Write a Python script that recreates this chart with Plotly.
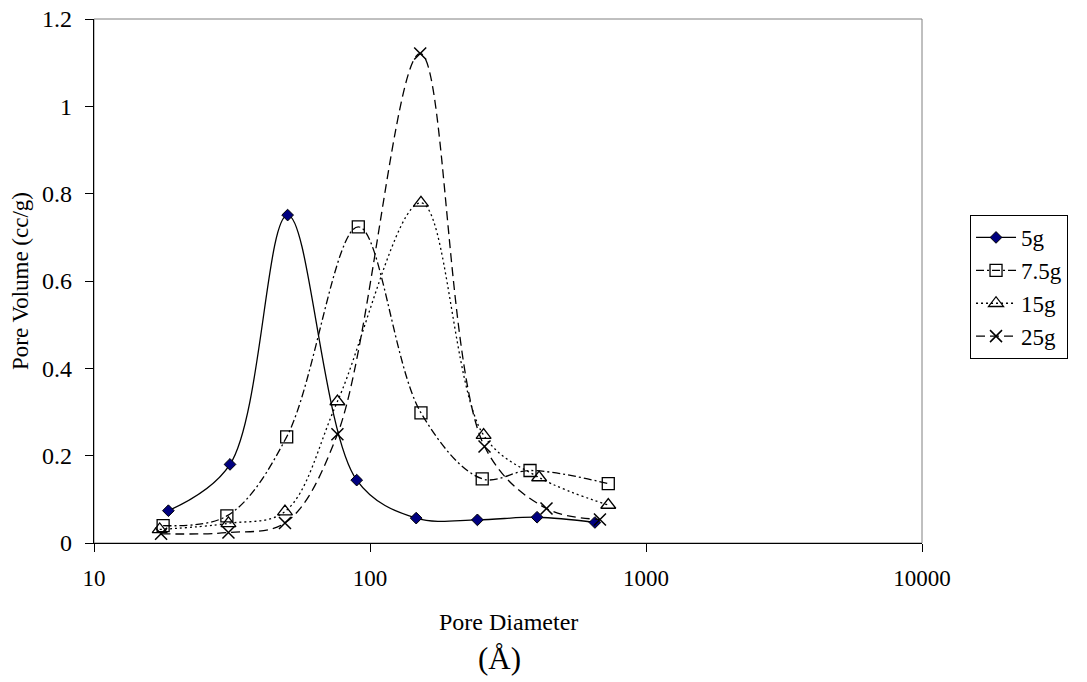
import plotly.graph_objects as go

# Pore size distribution for different template loadings
d_5g = [18.6, 31.1, 50.3, 89.5, 147, 245, 403, 653]
v_5g = [0.074, 0.180, 0.751, 0.144, 0.057, 0.053, 0.059, 0.047]

d_7_5g = [17.8, 30.3, 49.9, 90.7, 153, 255, 380, 730]
v_7_5g = [0.040, 0.062, 0.243, 0.724, 0.298, 0.147, 0.166, 0.136]

d_15g = [17.3, 30.7, 49.2, 76.2, 153, 258, 410, 730]
v_15g = [0.031, 0.045, 0.072, 0.324, 0.779, 0.247, 0.150, 0.087]

d_25g = [17.5, 30.7, 49.2, 76.2, 152, 260, 436, 681]
v_25g = [0.021, 0.024, 0.046, 0.249, 1.121, 0.221, 0.079, 0.054]

series_names = ["5g", "7.5g", "15g", "25g"]

x_tickvals = [10, 100, 1000, 10000]
x_ticktext = ["10", "100", "1000", "10000"]
y_tickvals = [0, 0.2, 0.4, 0.6, 0.8, 1.0, 1.2]
y_ticktext = ["0", "0.2", "0.4", "0.6", "0.8", "1", "1.2"]

FONT = "Liberation Serif, Times New Roman, serif"

styles = [
    dict(line=dict(color="black", width=1.3, dash="solid"),
         marker=dict(symbol="diamond", size=9, color="#000080",
                     line=dict(color="black", width=1))),
    dict(line=dict(color="black", width=1.3, dash="8px,3px,2px,3px"),
         marker=dict(symbol="square-open", size=12, color="black",
                     line=dict(width=1.3))),
    dict(line=dict(color="black", width=1.3, dash="2px,3px"),
         marker=dict(symbol="triangle-up-open", size=13, color="black",
                     line=dict(width=1.3))),
    dict(line=dict(color="black", width=1.3, dash="9px,5px"),
         marker=dict(symbol="x-thin-open", size=12, color="black",
                     line=dict(width=1.5, color="black"))),
]

fig = go.Figure()
for name, xs, ys, st in zip(series_names,
                            [d_5g, d_7_5g, d_15g, d_25g],
                            [v_5g, v_7_5g, v_15g, v_25g],
                            styles):
    fig.add_trace(go.Scatter(
        x=xs, y=ys, name=name, mode="lines+markers",
        line=dict(shape="spline", smoothing=1.0, **st["line"]),
        marker=st["marker"],
    ))

fig.update_layout(
    width=1087, height=682,
    margin=dict(l=94, r=165, t=19, b=139, autoexpand=False),
    paper_bgcolor="white", plot_bgcolor="white",
    font=dict(family=FONT, size=24, color="black"),
    showlegend=True,
    legend=dict(
        x=1.058, y=0.626, xanchor="left", yanchor="top",
        bordercolor="black", borderwidth=1, bgcolor="white",
        font=dict(family=FONT, size=23),
        tracegroupgap=0, itemwidth=40,
    ),
    xaxis=dict(
        type="log", range=[1, 4], automargin=False,
        tickvals=x_tickvals, ticktext=x_ticktext,
        showgrid=False, zeroline=False,
        showline=True, linecolor="black", linewidth=1.2,
        ticks="outside", ticklen=8, tickcolor="black",
        tickfont=dict(family=FONT, size=23),
        ticklabelstandoff=6,
    ),
    yaxis=dict(
        range=[0, 1.2], automargin=False,
        tickvals=y_tickvals, ticktext=y_ticktext,
        showgrid=False, zeroline=False,
        showline=True, linecolor="black", linewidth=1.2,
        ticks="outside", ticklen=8, tickcolor="black",
        tickfont=dict(family=FONT, size=24),
        ticklabelstandoff=8,
        title=dict(text="Pore Volume (cc/g)", font=dict(family=FONT, size=23),
                   standoff=7),
    ),
    shapes=[dict(type="rect", xref="paper", yref="paper",
                 x0=0, y0=0, x1=1, y1=1,
                 line=dict(color="#808080", width=1), layer="below")],
    annotations=[
        dict(text="Pore Diameter", xref="paper", yref="paper",
             x=0.5, y=-0.151, xanchor="center", yanchor="middle",
             showarrow=False, font=dict(family=FONT, size=24)),
        dict(text="(Å)", xref="paper", yref="paper",
             x=0.49, y=-0.22, xanchor="center", yanchor="middle",
             showarrow=False, font=dict(family=FONT, size=31)),
    ],
)

fig.write_html("out.html")
